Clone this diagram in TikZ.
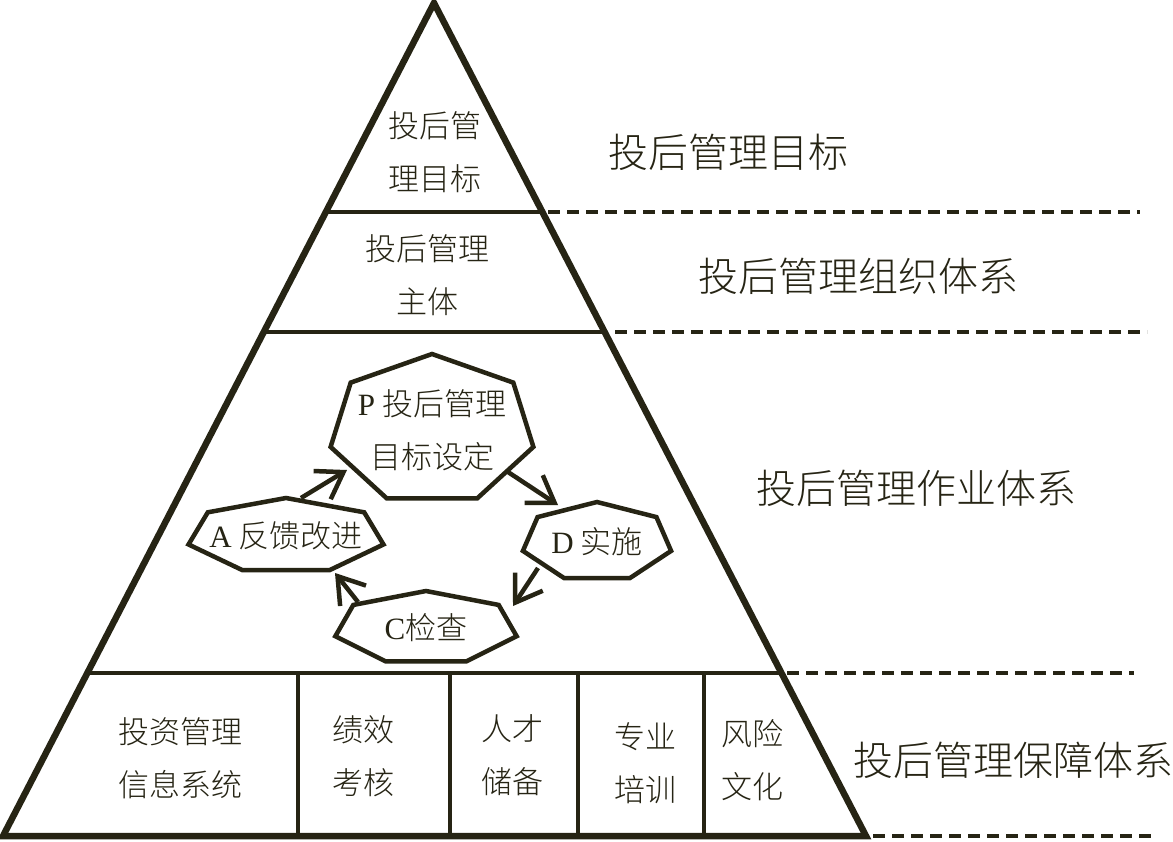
\documentclass[tikz,border=0pt]{standalone}
\usepackage{fontspec}
\setmainfont{Liberation Serif}
\newfontfamily\cjk{Noto Sans CJK SC Light}
\usetikzlibrary{calc,arrows.meta}
\definecolor{ink}{RGB}{38,36,20}

\begin{document}
\begin{tikzpicture}[x=1pt,y=-1pt,
  every node/.style={text=ink,font=\cjk\fontsize{31}{53}\selectfont,align=center,inner sep=0pt},
  side/.style={font=\cjk\fontsize{40}{48}\selectfont},
  edge/.style={draw=ink,line width=6.5pt,line join=miter},
  band/.style={draw=ink,line width=4.5pt},
  guide/.style={draw=ink,line width=4.5pt,dash pattern=on 12pt off 7pt},
  hept/.style={draw=ink,line width=4.5pt,line join=miter},
  cyc/.style={draw=ink,line width=4.5pt,-{Straight Barb[length=25pt,width=33pt]}}]
\fill[white] (0,0) rectangle (1173,841);
\useasboundingbox (0,0) rectangle (1173,841);
\coordinate (top) at (434,3);
\coordinate (bl) at (3,836);
\coordinate (br) at (866,836);
\foreach \y/\l/\r/\s/\e in {212/326/542/548/1140, 332/264/605/615/1147, 673/87/782/787/1134}{
  \draw[band] (\l,\y) -- (\r,\y);
  \draw[guide] (\s,\y) -- (\e,\y);
}
\draw[guide] (873,836) -- (1154,836);
\foreach \x in {298,450,578,704}
  \draw[band] (\x,673) -- (\x,836);
\draw[edge] (top) -- (bl) -- (br) -- cycle;
\node (goal) at (435,152) {投后管\\理目标};
\node (subj) at (427,275) {投后管理\\主体};
\node[side] (lgoal) at (728,152) {投后管理目标};
\node[side] (lorg) at (858,276) {投后管理组织体系};
\node[side] (lop) at (916,488) {投后管理作业体系};
\node[side] (lsup) at (1013,760) {投后管理保障体系};
\node (info) at (180,758) {投资管理\\信息系统};
\node (perf) at (363,756) {绩效\\考核};
\node (talent) at (512,755) {人才\\储备};
\node (train) at (645,763) {专业\\培训};
\node (risk) at (752,760) {风险\\文化};
\node (P) at (432,430) {{\rmfamily P} 投后管理\\目标设定};
\node (A) at (286,536) {{\rmfamily A} 反馈改进};
\node (D) at (597,542) {{\rmfamily D} 实施};
\node (C) at (426,628) {{\rmfamily C}检查};
\foreach \n/\rx/\ry in {P/104/76, A/100/38, D/76/40, C/93/37}
  \draw[hept] ($(\n)+(-90:{\rx} and {\ry})$) \foreach \k in {1,...,6}{ -- ($(\n)+({-90+51.43*\k}:{\rx} and {\ry})$)} -- cycle;
\draw[cyc] ($(A)+(15,-38)$) -- ($(P)+(-85,40)$);
\draw[cyc] ($(P)+(76,42)$) -- ($(D)+(-39,-37)$);
\draw[cyc] ($(D)+(-59,26)$) -- ($(C)+(87,-22)$);
\draw[cyc] ($(C)+(-68,-26)$) -- ($(A)+(49,37)$);
\end{tikzpicture}
\end{document}
